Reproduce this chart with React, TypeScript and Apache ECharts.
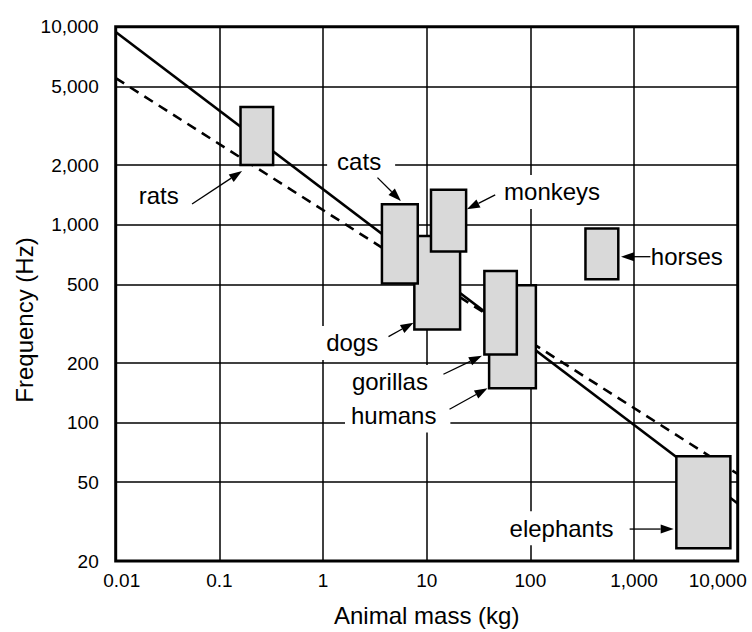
import React, { useEffect, useRef } from 'react';
import * as echarts from 'echarts';

// ---- axis ticks ----
const xTickLabels = ['0.01', '0.1', '1', '10', '100', '1,000', '10,000'];
const yTickValues = [20, 50, 100, 200, 500, 1000, 2000, 5000, 10000];
const yTickLabels = ['20', '50', '100', '200', '500', '1,000', '2,000', '5,000', '10,000'];

// ---- boxes (mass range in kg, frequency range in Hz) ----
const boxNames = ['rats', 'dogs', 'cats', 'monkeys', 'humans', 'gorillas', 'horses', 'elephants'];
const massMin = [0.16, 7.6, 3.7, 11, 40, 36, 340, 2560];
const massMax = [0.33, 21, 8.2, 24, 113, 74, 705, 8500];
const freqMin = [2000, 295, 504, 731, 149, 221, 530, 23.2];
const freqMax = [3930, 877, 1268, 1502, 494, 584, 955, 67.7];

// ---- fitted lines ----
const lineMass = [0.01, 10000];
const solidFreq = [9400, 39];
const dashedFreq = [5500, 55];

// ---- annotation labels (data coordinates) ----
const labelNames = ['rats', 'cats', 'monkeys', 'horses', 'dogs', 'gorillas', 'humans', 'elephants'];
const labelMass = [0.026, 2.33, 151.6, 3304, 1.91, 4.62, 5.25, 223.5];
const labelFreq = [1400, 2073, 1463, 689, 252.6, 160.6, 108.6, 29.3];

// ---- arrows (from -> to, data coordinates) ----
const arrowFromMass = [0.0545, 3.35, 45.8, 1437, 4.28, 14.5, 16.6, 907];
const arrowFromFreq = [1272, 1728, 1413, 689, 271.9, 175.6, 116.9, 29];
const arrowToMass = [0.1656, 5.64, 24.4, 749, 7.46, 34.1, 38.6, 2412];
const arrowToFreq = [1867, 1318, 1196, 689, 320, 217.9, 149.2, 29];

const FONT = "'Liberation Sans', Arial, Helvetica, sans-serif";
const labelPad: Record<string, number[]> = {
  rats: [5, 8, 5, 8],
  cats: [5, 14, 5, 10],
  monkeys: [5, 6, 5, 12],
  horses: [5, 6, 5, 4],
  dogs: [5, 8, 5, 8],
  gorillas: [5, 10, 5, 6],
  humans: [5, 14, 5, 6],
  elephants: [5, 18, 5, 8],
};

export default function App() {
  const ref = useRef<HTMLDivElement>(null);
  useEffect(() => {
    const chart = echarts.init(ref.current as HTMLDivElement, null, { renderer: 'svg' });
    const option: any = {
      animation: false,
      backgroundColor: '#fff',
      textStyle: { fontFamily: FONT, color: '#000' },
      grid: {
        left: 115.7,
        top: 26.7,
        right: 14.3,
        bottom: 69.7,
        show: true,
        borderColor: '#000',
        borderWidth: 3,
        backgroundColor: 'transparent',
      },
      xAxis: {
        type: 'log',
        logBase: 10,
        min: 0.01,
        max: 10000,
        name: 'Animal mass (kg)',
        nameLocation: 'middle',
        nameGap: 42,
        nameTextStyle: { fontSize: 24, fontFamily: FONT, color: '#000' },
        axisLine: { show: false },
        axisTick: { show: false },
        splitLine: { show: true, lineStyle: { color: '#000', width: 1.5 } },
        axisLabel: {
          margin: 10,
          fontSize: 19,
          fontFamily: FONT,
          color: '#000',
          formatter: (v: number) => {
            const i = Math.round(Math.log10(v)) + 2;
            const t = xTickLabels[i] ?? '';
            if (i === 0) return '{first|' + t + '}';
            if (i === xTickLabels.length - 1) return '{last|' + t + '}';
            return t;
          },
          rich: {
            first: { fontSize: 19, fontFamily: FONT, color: '#000', padding: [0, 0, 0, 12] },
            last: { fontSize: 19, fontFamily: FONT, color: '#000', padding: [0, 40, 0, 0] },
          },
        },
      },
      yAxis: {
        type: 'log',
        logBase: 10,
        min: 20,
        max: 10000,
        axisLine: { show: false },
        axisTick: { show: false, customValues: yTickValues },
        splitLine: { show: true, lineStyle: { color: '#000', width: 1.5 } },
        axisLabel: {
          customValues: yTickValues,
          margin: 17,
          fontSize: 19,
          fontFamily: FONT,
          color: '#000',
          formatter: (v: number) => {
            let best = 0;
            for (let i = 0; i < yTickValues.length; i++) {
              if (Math.abs(Math.log10(yTickValues[i]) - Math.log10(v)) < Math.abs(Math.log10(yTickValues[best]) - Math.log10(v))) best = i;
            }
            return yTickLabels[best];
          },
        },
      },
      graphic: [
        {
          type: 'text',
          x: 24,
          y: 320,
          rotation: Math.PI / 2,
          style: {
            text: 'Frequency (Hz)',
            font: `24px ${FONT}`,
            fill: '#000',
            align: 'center',
            verticalAlign: 'middle',
          },
        },
      ],
      series: [
        {
          type: 'line',
          z: 2,
          symbol: 'none',
          data: lineMass.map((m, i) => [m, solidFreq[i]]),
          lineStyle: { color: '#000', width: 2.6 },
        },
        {
          type: 'line',
          z: 2,
          symbol: 'none',
          data: lineMass.map((m, i) => [m, dashedFreq[i]]),
          lineStyle: { color: '#000', width: 2.6, type: [10, 7] },
        },
        {
          type: 'custom',
          z: 3,
          data: boxNames.map((n, i) => [massMin[i], massMax[i], freqMin[i], freqMax[i]]),
          encode: { x: [0, 1], y: [2, 3] },
          renderItem: (params: any, api: any) => {
            const p0 = api.coord([api.value(0), api.value(3)]);
            const p1 = api.coord([api.value(1), api.value(2)]);
            return {
              type: 'rect',
              shape: { x: p0[0], y: p0[1], width: p1[0] - p0[0], height: p1[1] - p0[1] },
              style: { fill: '#d9d9d9', stroke: '#000', lineWidth: 2.5 },
            };
          },
        },
        {
          type: 'custom',
          z: 4,
          data: labelNames.map((n, i) => [labelMass[i], labelFreq[i]]),
          encode: { x: 0, y: 1 },
          renderItem: (params: any, api: any) => {
            const name = labelNames[params.dataIndex];
            const p = api.coord([api.value(0), api.value(1)]);
            return {
              type: 'text',
              x: p[0],
              y: p[1],
              style: {
                text: name,
                font: `24px ${FONT}`,
                fill: '#000',
                align: 'center',
                verticalAlign: 'middle',
                backgroundColor: '#fff',
                padding: labelPad[name],
              },
            };
          },
        },
        {
          type: 'custom',
          z: 5,
          data: labelNames.map((n, i) => [arrowFromMass[i], arrowFromFreq[i], arrowToMass[i], arrowToFreq[i]]),
          encode: { x: [0, 2], y: [1, 3] },
          renderItem: (params: any, api: any) => {
            const a = api.coord([api.value(0), api.value(1)]);
            const b = api.coord([api.value(2), api.value(3)]);
            const dx = b[0] - a[0];
            const dy = b[1] - a[1];
            const len = Math.hypot(dx, dy) || 1;
            const ux = dx / len;
            const uy = dy / len;
            const L = 13;
            const W = 4.5;
            const bx = b[0] - ux * L;
            const by = b[1] - uy * L;
            return {
              type: 'group',
              children: [
                {
                  type: 'line',
                  shape: { x1: a[0], y1: a[1], x2: bx, y2: by },
                  style: { stroke: '#000', lineWidth: 1.3 },
                },
                {
                  type: 'polygon',
                  shape: {
                    points: [
                      [b[0], b[1]],
                      [bx - uy * W, by + ux * W],
                      [bx + uy * W, by - ux * W],
                    ],
                  },
                  style: { fill: '#000' },
                },
              ],
            };
          },
        },
      ],
    };
    chart.setOption(option);
    return () => chart.dispose();
  }, []);
  return (
    <div
      ref={ref}
      style={{ position: 'fixed', left: 0, top: 0, width: 752, height: 632, background: '#fff' }}
    />
  );
}
